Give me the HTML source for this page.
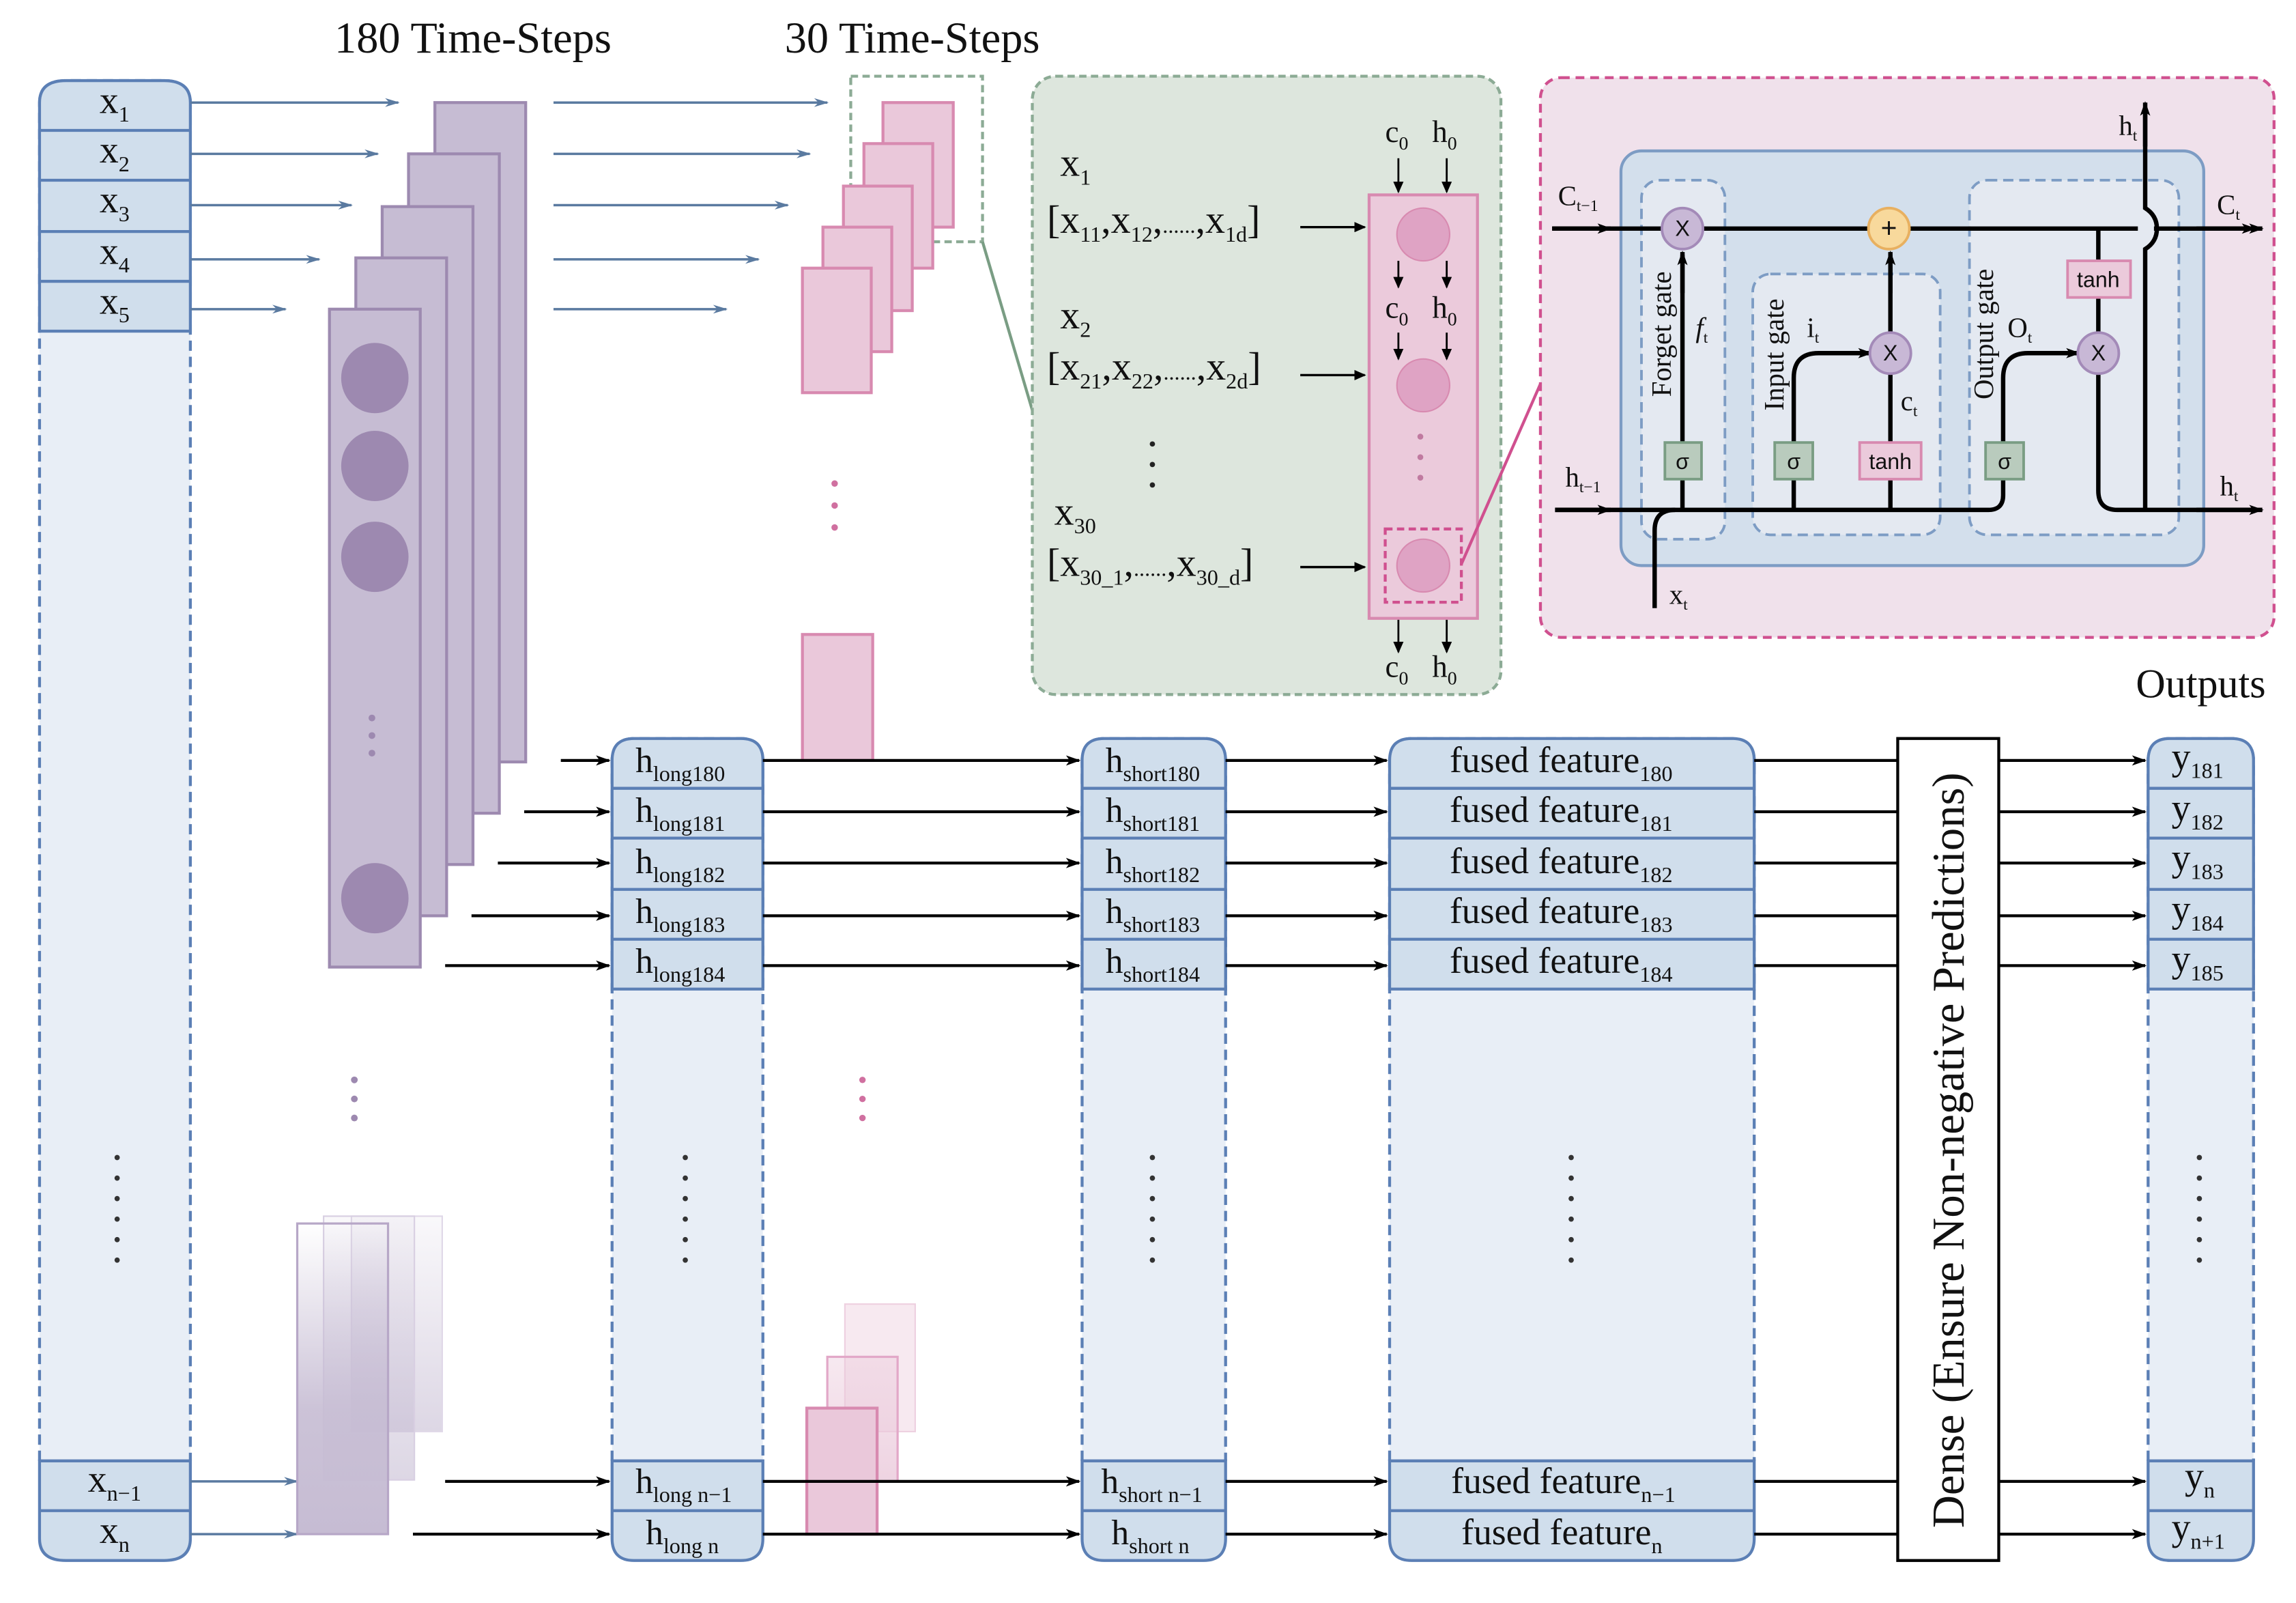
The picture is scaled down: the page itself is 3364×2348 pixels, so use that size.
<!DOCTYPE html>
<html><head><meta charset="utf-8"><style>
html,body{margin:0;padding:0;background:#fff}
svg{display:block}
text{font-family:"Liberation Serif",serif;fill:#111}
.s{font-size:15px}
</style></head><body>
<svg width="3364" height="2348" viewBox="0 0 1568 1094" preserveAspectRatio="none" xmlns="http://www.w3.org/2000/svg">
<defs>
<marker id="ab" markerWidth="10" markerHeight="8" refX="9" refY="4" orient="auto" markerUnits="userSpaceOnUse"><path d="M0,1 L10,4 L0,7 L3,4z" fill="#5a7aa0"/></marker>
<marker id="ak" markerWidth="10" markerHeight="8" refX="9" refY="4" orient="auto" markerUnits="userSpaceOnUse"><path d="M0,0.5 L10,4 L0,7.5 L2.5,4z" fill="#000"/></marker>
<marker id="ak2" markerWidth="8" markerHeight="7" refX="7" refY="3.5" orient="auto" markerUnits="userSpaceOnUse"><path d="M0,0 L8,3.5 L0,7z" fill="#000"/></marker>
<linearGradient id="gp" x1="0" y1="0" x2="0" y2="1"><stop offset="0" stop-color="#c6bcd3" stop-opacity="0"/><stop offset="0.6" stop-color="#c6bcd3" stop-opacity="0.9"/><stop offset="1" stop-color="#c6bcd3"/></linearGradient>
<linearGradient id="gp2" x1="0" y1="0" x2="0" y2="1"><stop offset="0" stop-color="#c6bcd3" stop-opacity="0.1"/><stop offset="1" stop-color="#c6bcd3" stop-opacity="0.6"/></linearGradient>
<linearGradient id="gk" x1="0" y1="0" x2="0" y2="1"><stop offset="0" stop-color="#eac8da" stop-opacity="0.4"/><stop offset="1" stop-color="#eac8da" stop-opacity="0.8"/></linearGradient>
</defs>

<text x="323" y="36" font-size="30" text-anchor="middle">180 Time-Steps</text>
<text x="623" y="36" font-size="30" text-anchor="middle">30 Time-Steps</text>

<path d="M27,997 V70 Q27,55 45,55 H112 Q130,55 130,70 V997" fill="#e8eef6" stroke="#5b7fb5" stroke-width="2" stroke-dasharray="7,4"/>
<path d="M27,226 V70 Q27,55 45,55 H112 Q130,55 130,70 V226 Z" fill="#d0deec" stroke="#5b7fb5" stroke-width="2"/>
<g stroke="#5b7fb5" stroke-width="2"><line x1="27" y1="89" x2="130" y2="89"/><line x1="27" y1="123" x2="130" y2="123"/><line x1="27" y1="158" x2="130" y2="158"/><line x1="27" y1="192" x2="130" y2="192"/></g>
<path d="M27,997 H130 V1050 Q130,1065 112,1065 H45 Q27,1065 27,1050 Z" fill="#d0deec" stroke="#5b7fb5" stroke-width="2"/>
<line x1="27" y1="1031" x2="130" y2="1031" stroke="#5b7fb5" stroke-width="2"/>
<g font-size="26"><text x="68" y="77">x<tspan class="s" dy="6">1</tspan></text>
<text x="68" y="111">x<tspan class="s" dy="6">2</tspan></text>
<text x="68" y="145">x<tspan class="s" dy="6">3</tspan></text>
<text x="68" y="180">x<tspan class="s" dy="6">4</tspan></text>
<text x="68" y="214">x<tspan class="s" dy="6">5</tspan></text>
<text x="60" y="1018">x<tspan class="s" dy="6">n−1</tspan></text>
<text x="68" y="1053">x<tspan class="s" dy="6">n</tspan></text></g>
<g fill="#333"><circle cx="80" cy="790" r="1.8"/><circle cx="80" cy="804" r="1.8"/><circle cx="80" cy="818" r="1.8"/><circle cx="80" cy="832" r="1.8"/><circle cx="80" cy="846" r="1.8"/><circle cx="80" cy="860" r="1.8"/></g>

<g stroke="#5a7aa0" stroke-width="1.6" marker-end="url(#ab)">
<line x1="130" y1="70" x2="272" y2="70"/><line x1="130" y1="105" x2="258" y2="105"/><line x1="130" y1="140" x2="240" y2="140"/><line x1="130" y1="177" x2="218" y2="177"/><line x1="130" y1="211" x2="195" y2="211"/>
<line x1="378" y1="70" x2="565" y2="70"/><line x1="378" y1="105" x2="553" y2="105"/><line x1="378" y1="140" x2="538" y2="140"/><line x1="378" y1="177" x2="518" y2="177"/><line x1="378" y1="211" x2="496" y2="211"/>
<line x1="130" y1="1011" x2="203" y2="1011"/><line x1="130" y1="1047" x2="203" y2="1047"/>
</g>

<g fill="#c6bcd3" stroke="#9d8ab0" stroke-width="2">
<rect x="297" y="70" width="62" height="450"/><rect x="279" y="105" width="62" height="450"/><rect x="261" y="141" width="62" height="449"/><rect x="243" y="176" width="62" height="449"/><rect x="225" y="211" width="62" height="449"/></g>
<g fill="#9d89b0"><ellipse cx="256" cy="258" rx="23" ry="24"/><ellipse cx="256" cy="318" rx="23" ry="24"/><ellipse cx="256" cy="380" rx="23" ry="24"/><ellipse cx="256" cy="613" rx="23" ry="24"/>
<circle cx="254" cy="490" r="2.3"/><circle cx="254" cy="502" r="2.3"/><circle cx="254" cy="514" r="2.3"/>
<circle cx="242" cy="737" r="2.3"/><circle cx="242" cy="750" r="2.3"/><circle cx="242" cy="763" r="2.3"/></g>
<rect x="240" y="830" width="62" height="147" fill="url(#gp2)" stroke="#e0d8e8" stroke-width="1"/>
<rect x="221" y="830" width="62" height="180" fill="url(#gp2)" stroke="#d8cfe2" stroke-width="1"/>
<rect x="203" y="835" width="62" height="212" fill="url(#gp)" stroke="#b7a7c7" stroke-width="1.5"/>

<rect x="581" y="52" width="90" height="113" fill="none" stroke="#8cab95" stroke-width="2" stroke-dasharray="5,3"/>
<g fill="#eac8da" stroke="#d88ab0" stroke-width="2">
<rect x="603" y="70" width="48" height="85"/><rect x="590" y="98" width="47" height="85"/><rect x="576" y="127" width="47" height="85"/><rect x="562" y="155" width="47" height="85"/><rect x="548" y="183" width="47" height="85"/>
<rect x="548" y="433" width="48" height="86"/></g>
<g fill="#d070a0"><circle cx="570" cy="330" r="2.2"/><circle cx="570" cy="345" r="2.2"/><circle cx="570" cy="360" r="2.2"/>
<circle cx="589" cy="737" r="2.2"/><circle cx="589" cy="750" r="2.2"/><circle cx="589" cy="763" r="2.2"/></g>
<rect x="577" y="890" width="48" height="87" fill="#eac8da" fill-opacity="0.4" stroke="#eed0e0" stroke-width="1"/>
<rect x="565" y="926" width="48" height="85" fill="url(#gk)" stroke="#e2a8c8" stroke-width="1.5"/>
<rect x="551" y="961" width="48" height="86" fill="#eac8da" stroke="#d88ab0" stroke-width="2"/>
<line x1="671" y1="165" x2="705" y2="280" stroke="#7a9d84" stroke-width="2"/>

<rect x="705" y="52" width="320" height="422" rx="16" fill="#dde6dd" stroke="#8cab95" stroke-width="2" stroke-dasharray="5,3"/>
<g font-size="27">
<text x="724" y="120">x<tspan class="s" dy="6">1</tspan></text>
<text x="715" y="159">[x<tspan class="s" dy="6">11</tspan><tspan dy="-6">,x</tspan><tspan class="s" dy="6">12</tspan><tspan dy="-6">,</tspan><tspan class="s">......</tspan><tspan>,x</tspan><tspan class="s" dy="6">1d</tspan><tspan dy="-6">]</tspan></text>
<text x="724" y="224">x<tspan class="s" dy="6">2</tspan></text>
<text x="715" y="259">[x<tspan class="s" dy="6">21</tspan><tspan dy="-6">,x</tspan><tspan class="s" dy="6">22</tspan><tspan dy="-6">,</tspan><tspan class="s">......</tspan><tspan>,x</tspan><tspan class="s" dy="6">2d</tspan><tspan dy="-6">]</tspan></text>
<text x="720" y="358">x<tspan class="s" dy="6">30</tspan></text>
<text x="715" y="393">[x<tspan class="s" dy="6">30_1</tspan><tspan dy="-6">,</tspan><tspan class="s">......</tspan><tspan>,x</tspan><tspan class="s" dy="6">30_d</tspan><tspan dy="-6">]</tspan></text>
</g>
<g fill="#222"><circle cx="787" cy="303" r="1.8"/><circle cx="787" cy="317" r="1.8"/><circle cx="787" cy="331" r="1.8"/></g>
<g stroke="#000" stroke-width="1.6" marker-end="url(#ak2)"><line x1="888" y1="155" x2="932" y2="155"/><line x1="888" y1="256" x2="932" y2="256"/><line x1="888" y1="387" x2="932" y2="387"/></g>
<rect x="935" y="133" width="74" height="289" fill="#ebcadb" stroke="#d88ab0" stroke-width="2"/>
<g fill="#dfa3c4" stroke="#d88ab0" stroke-width="1"><circle cx="972" cy="160" r="18"/><circle cx="972" cy="263" r="18"/><circle cx="972" cy="386" r="18"/></g>
<g fill="#c07aa0"><circle cx="970" cy="298" r="2"/><circle cx="970" cy="312" r="2"/><circle cx="970" cy="326" r="2"/></g>
<rect x="946" y="361" width="52" height="50" fill="none" stroke="#d0508f" stroke-width="2" stroke-dasharray="5,3"/>
<g stroke="#000" stroke-width="1.3" marker-end="url(#ak2)">
<line x1="955" y1="108" x2="955" y2="131"/><line x1="988" y1="108" x2="988" y2="131"/>
<line x1="955" y1="178" x2="955" y2="196"/><line x1="988" y1="178" x2="988" y2="196"/>
<line x1="955" y1="227" x2="955" y2="245"/><line x1="988" y1="227" x2="988" y2="245"/>
<line x1="955" y1="423" x2="955" y2="445"/><line x1="988" y1="423" x2="988" y2="445"/></g>
<g font-size="21">
<text x="946" y="97">c<tspan font-size="13" dy="5">0</tspan></text><text x="978" y="97">h<tspan font-size="13" dy="5">0</tspan></text>
<text x="946" y="217">c<tspan font-size="13" dy="5">0</tspan></text><text x="978" y="217">h<tspan font-size="13" dy="5">0</tspan></text>
<text x="946" y="462">c<tspan font-size="13" dy="5">0</tspan></text><text x="978" y="462">h<tspan font-size="13" dy="5">0</tspan></text></g>
<line x1="998" y1="385" x2="1052" y2="262" stroke="#d0508f" stroke-width="2"/>

<rect x="1052" y="53" width="501" height="382" rx="14" fill="#f0e1eb" stroke="#d0508f" stroke-width="2" stroke-dasharray="6,4"/>
<rect x="1107" y="103" width="398" height="283" rx="14" fill="#d3dfec" stroke="#7d9cc4" stroke-width="2"/>
<g fill="#e4e9f1" stroke="#7d9cc4" stroke-width="1.8" stroke-dasharray="7,4">
<rect x="1121" y="123" width="57" height="245" rx="12"/><rect x="1197" y="187" width="128" height="178" rx="12"/><rect x="1345" y="123" width="143" height="242" rx="12"/></g>
<g stroke="#000" stroke-width="3" fill="none">
<line x1="1060" y1="156" x2="1460" y2="156"/>
<path d="M1471,156 H1540" marker-end="url(#ak)"/>
<path d="M1062,348 H1358 Q1368,348 1368,338 V258 Q1368,241 1385,241 H1417" />
<path d="M1130,415 V362 Q1130,348 1144,348"/>
<line x1="1149" y1="348" x2="1149" y2="174"/>
<path d="M1225,348 V258 Q1225,241 1242,241 H1275"/>
<line x1="1291" y1="348" x2="1291" y2="255"/>
<line x1="1291" y1="227" x2="1291" y2="174"/>
<path d="M1433,156 V227"/>
<path d="M1433,255 V335 Q1433,348 1446,348 H1540"/>
<path d="M1465,348 V170 Q1473,165 1473,156 Q1473,147 1465,142 V76"/>
</g>
<g stroke="#000" stroke-width="3" fill="none">
<line x1="1062" y1="348" x2="1100" y2="348" marker-end="url(#ak)"/>
<line x1="1060" y1="156" x2="1100" y2="156" marker-end="url(#ak)"/>
<line x1="1500" y1="348" x2="1545" y2="348" marker-end="url(#ak)"/>
<line x1="1500" y1="156" x2="1545" y2="156" marker-end="url(#ak)"/>
<line x1="1149" y1="200" x2="1149" y2="172" marker-end="url(#ak)"/>
<line x1="1291" y1="200" x2="1291" y2="172" marker-end="url(#ak)"/>
<line x1="1250" y1="241" x2="1278" y2="241" marker-end="url(#ak)"/>
<line x1="1390" y1="241" x2="1420" y2="241" marker-end="url(#ak)"/>
<line x1="1465" y1="100" x2="1465" y2="70" marker-end="url(#ak)"/>
</g>
<g stroke-width="1.8">
<circle cx="1149" cy="156" r="14" fill="#c8b8d6" stroke="#a38ab8"/>
<circle cx="1290" cy="156" r="14" fill="#f8d99c" stroke="#e8b060"/>
<circle cx="1291" cy="241" r="14" fill="#c8b8d6" stroke="#a38ab8"/>
<circle cx="1433" cy="241" r="14" fill="#c8b8d6" stroke="#a38ab8"/>
<rect x="1137" y="302" width="25" height="25" fill="#b9cbbd" stroke="#7a9d84"/>
<rect x="1212" y="302" width="26" height="25" fill="#b9cbbd" stroke="#7a9d84"/>
<rect x="1356" y="302" width="26" height="25" fill="#b9cbbd" stroke="#7a9d84"/>
<rect x="1270" y="302" width="42" height="25" fill="#ebcadb" stroke="#d88ab0"/>
<rect x="1412" y="178" width="43" height="25" fill="#ebcadb" stroke="#d88ab0"/>
</g>
<g font-size="15" text-anchor="middle" style="font-family:'Liberation Sans',sans-serif">
<text x="1149" y="161" style="font-family:'Liberation Sans',sans-serif">X</text><text x="1290" y="162" font-size="19" style="font-family:'Liberation Sans',sans-serif">+</text><text x="1291" y="246" style="font-family:'Liberation Sans',sans-serif">X</text><text x="1433" y="246" style="font-family:'Liberation Sans',sans-serif">X</text>
<text x="1149" y="320" style="font-family:'Liberation Sans',sans-serif">σ</text><text x="1225" y="320" style="font-family:'Liberation Sans',sans-serif">σ</text><text x="1369" y="320" style="font-family:'Liberation Sans',sans-serif">σ</text>
<text x="1291" y="320" font-size="15" style="font-family:'Liberation Sans',sans-serif">tanh</text><text x="1433" y="196" font-size="15" style="font-family:'Liberation Sans',sans-serif">tanh</text></g>
<g font-size="19">
<text transform="translate(1141,228) rotate(-90)" text-anchor="middle">Forget gate</text>
<text transform="translate(1218,242) rotate(-90)" text-anchor="middle">Input gate</text>
<text transform="translate(1361,228) rotate(-90)" text-anchor="middle">Output gate</text>
<text x="1158" y="230" font-style="italic">f<tspan font-size="11" dy="4" font-style="normal">t</tspan></text>
<text x="1234" y="230">i<tspan font-size="11" dy="4">t</tspan></text>
<text x="1298" y="280">c<tspan font-size="11" dy="4">t</tspan></text>
<text x="1371" y="230">O<tspan font-size="11" dy="4">t</tspan></text>
<text x="1064" y="140">C<tspan font-size="11" dy="4">t−1</tspan></text>
<text x="1514" y="146">C<tspan font-size="11" dy="4">t</tspan></text>
<text x="1069" y="332">h<tspan font-size="11" dy="4">t−1</tspan></text>
<text x="1516" y="338">h<tspan font-size="11" dy="4">t</tspan></text>
<text x="1447" y="92">h<tspan font-size="11" dy="4">t</tspan></text>
<text x="1140" y="412">x<tspan font-size="11" dy="4">t</tspan></text></g>

<text x="1503" y="476" font-size="28" text-anchor="middle">Outputs</text>

<g stroke="#5b7fb5" stroke-width="2">
<path d="M418,997 V519 Q418,504 433,504 H506 Q521,504 521,519 V997" fill="#e8eef6" stroke-dasharray="7,4"/>
<path d="M418,675 V519 Q418,504 433,504 H506 Q521,504 521,519 V675 Z" fill="#d0deec"/>
<path d="M418,997 H521 V1050 Q521,1065 506,1065 H433 Q418,1065 418,1050 Z" fill="#d0deec"/>
<path d="M739,997 V519 Q739,504 754,504 H822 Q837,504 837,519 V997" fill="#e8eef6" stroke-dasharray="7,4"/>
<path d="M739,675 V519 Q739,504 754,504 H822 Q837,504 837,519 V675 Z" fill="#d0deec"/>
<path d="M739,997 H837 V1050 Q837,1065 822,1065 H754 Q739,1065 739,1050 Z" fill="#d0deec"/>
<path d="M949,997 V519 Q949,504 964,504 H1183 Q1198,504 1198,519 V997" fill="#e8eef6" stroke-dasharray="7,4"/>
<path d="M949,675 V519 Q949,504 964,504 H1183 Q1198,504 1198,519 V675 Z" fill="#d0deec"/>
<path d="M949,997 H1198 V1050 Q1198,1065 1183,1065 H964 Q949,1065 949,1050 Z" fill="#d0deec"/>
<path d="M1467,997 V519 Q1467,504 1482,504 H1524 Q1539,504 1539,519 V997" fill="#e8eef6" stroke-dasharray="7,4"/>
<path d="M1467,675 V519 Q1467,504 1482,504 H1524 Q1539,504 1539,519 V675 Z" fill="#d0deec"/>
<path d="M1467,997 H1539 V1050 Q1539,1065 1524,1065 H1482 Q1467,1065 1467,1050 Z" fill="#d0deec"/>
<path d="M418,538H521M418,572H521M418,607H521M418,641H521M418,1031H521M739,538H837M739,572H837M739,607H837M739,641H837M739,1031H837M949,538H1198M949,572H1198M949,607H1198M949,641H1198M949,1031H1198M1467,538H1539M1467,572H1539M1467,607H1539M1467,641H1539M1467,1031H1539"/>
</g>

<g stroke="#000" stroke-width="2" marker-end="url(#ak)">
<line x1="383" y1="519" x2="416" y2="519"/><line x1="358" y1="554" x2="416" y2="554"/><line x1="340" y1="589" x2="416" y2="589"/><line x1="322" y1="625" x2="416" y2="625"/><line x1="304" y1="659" x2="416" y2="659"/><line x1="304" y1="1011" x2="416" y2="1011"/><line x1="282" y1="1047" x2="416" y2="1047"/>
<line x1="521" y1="519" x2="737" y2="519"/><line x1="521" y1="554" x2="737" y2="554"/><line x1="521" y1="589" x2="737" y2="589"/><line x1="521" y1="625" x2="737" y2="625"/><line x1="521" y1="659" x2="737" y2="659"/><line x1="521" y1="1011" x2="737" y2="1011"/><line x1="521" y1="1047" x2="737" y2="1047"/>
<line x1="837" y1="519" x2="947" y2="519"/><line x1="837" y1="554" x2="947" y2="554"/><line x1="837" y1="589" x2="947" y2="589"/><line x1="837" y1="625" x2="947" y2="625"/><line x1="837" y1="659" x2="947" y2="659"/><line x1="837" y1="1011" x2="947" y2="1011"/><line x1="837" y1="1047" x2="947" y2="1047"/>
<line x1="1365" y1="519" x2="1465" y2="519"/><line x1="1365" y1="554" x2="1465" y2="554"/><line x1="1365" y1="589" x2="1465" y2="589"/><line x1="1365" y1="625" x2="1465" y2="625"/><line x1="1365" y1="659" x2="1465" y2="659"/><line x1="1365" y1="1011" x2="1465" y2="1011"/><line x1="1365" y1="1047" x2="1465" y2="1047"/>
</g>
<g stroke="#000" stroke-width="2">
<path d="M1198,519H1296M1198,554H1296M1198,589H1296M1198,625H1296M1198,659H1296M1198,1011H1296M1198,1047H1296"/></g>
<rect x="1296" y="504" width="69" height="561" fill="#fff" stroke="#000" stroke-width="2"/>
<text transform="translate(1341,785) rotate(-90)" font-size="31" text-anchor="middle">Dense (Ensure Non-negative Predictions)</text>

<g font-size="24">
<text x="434" y="527">h<tspan class="s" dy="6">long180</tspan></text>
<text x="434" y="561">h<tspan class="s" dy="6">long181</tspan></text>
<text x="434" y="596">h<tspan class="s" dy="6">long182</tspan></text>
<text x="434" y="630">h<tspan class="s" dy="6">long183</tspan></text>
<text x="434" y="664">h<tspan class="s" dy="6">long184</tspan></text>
<text x="434" y="1019">h<tspan class="s" dy="6">long n−1</tspan></text>
<text x="441" y="1054">h<tspan class="s" dy="6">long n</tspan></text>
<text x="755" y="527">h<tspan class="s" dy="6">short180</tspan></text>
<text x="755" y="561">h<tspan class="s" dy="6">short181</tspan></text>
<text x="755" y="596">h<tspan class="s" dy="6">short182</tspan></text>
<text x="755" y="630">h<tspan class="s" dy="6">short183</tspan></text>
<text x="755" y="664">h<tspan class="s" dy="6">short184</tspan></text>
<text x="752" y="1019">h<tspan class="s" dy="6">short n−1</tspan></text>
<text x="759" y="1054">h<tspan class="s" dy="6">short n</tspan></text>
</g>
<g font-size="25">
<text x="990" y="527">fused feature<tspan class="s" dy="6">180</tspan></text>
<text x="990" y="561">fused feature<tspan class="s" dy="6">181</tspan></text>
<text x="990" y="596">fused feature<tspan class="s" dy="6">182</tspan></text>
<text x="990" y="630">fused feature<tspan class="s" dy="6">183</tspan></text>
<text x="990" y="664">fused feature<tspan class="s" dy="6">184</tspan></text>
<text x="991" y="1019">fused feature<tspan class="s" dy="6">n−1</tspan></text>
<text x="998" y="1054">fused feature<tspan class="s" dy="6">n</tspan></text>
</g>
<g font-size="26">
<text x="1483" y="525">y<tspan class="s" dy="6">181</tspan></text>
<text x="1483" y="560">y<tspan class="s" dy="6">182</tspan></text>
<text x="1483" y="594">y<tspan class="s" dy="6">183</tspan></text>
<text x="1483" y="629">y<tspan class="s" dy="6">184</tspan></text>
<text x="1483" y="663">y<tspan class="s" dy="6">185</tspan></text>
<text x="1492" y="1016">y<tspan class="s" dy="6">n</tspan></text>
<text x="1483" y="1051">y<tspan class="s" dy="6">n+1</tspan></text>
</g>
<g fill="#333">
<circle cx="468" cy="790" r="1.8"/><circle cx="468" cy="804" r="1.8"/><circle cx="468" cy="818" r="1.8"/><circle cx="468" cy="832" r="1.8"/><circle cx="468" cy="846" r="1.8"/><circle cx="468" cy="860" r="1.8"/>
<circle cx="787" cy="790" r="1.8"/><circle cx="787" cy="804" r="1.8"/><circle cx="787" cy="818" r="1.8"/><circle cx="787" cy="832" r="1.8"/><circle cx="787" cy="846" r="1.8"/><circle cx="787" cy="860" r="1.8"/>
<circle cx="1073" cy="790" r="1.8"/><circle cx="1073" cy="804" r="1.8"/><circle cx="1073" cy="818" r="1.8"/><circle cx="1073" cy="832" r="1.8"/><circle cx="1073" cy="846" r="1.8"/><circle cx="1073" cy="860" r="1.8"/>
<circle cx="1502" cy="790" r="1.8"/><circle cx="1502" cy="804" r="1.8"/><circle cx="1502" cy="818" r="1.8"/><circle cx="1502" cy="832" r="1.8"/><circle cx="1502" cy="846" r="1.8"/><circle cx="1502" cy="860" r="1.8"/>
</g>
</svg>
</body></html>
